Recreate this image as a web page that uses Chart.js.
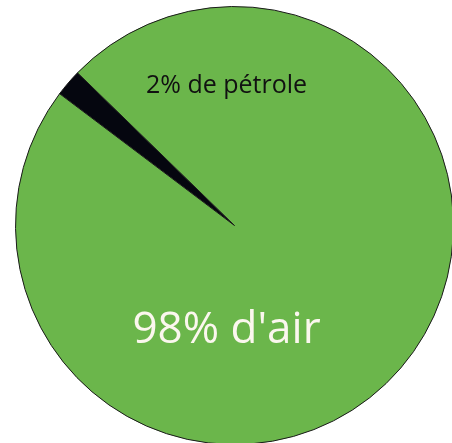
<!DOCTYPE html>
<html>
<head>
<meta charset="utf-8">
<script src="https://cdn.jsdelivr.net/npm/chart.js@4"></script>
<style>
  html, body { margin: 0; padding: 0; background: #fff; overflow: hidden; width: 452px; height: 443px; }
  #wrap { position: absolute; left: 0; top: 0; }
</style>
</head>
<body>
<div id="wrap"><canvas id="pie" width="480" height="470"></canvas></div>
<script>
const categories = ['2% de pétrole', "98% d'air"];
const shares = [2, 98];
const sliceColors = ['#05060f', '#6bb64b'];

// texts drawn over the pie, baseline offset from its centre
const sliceLabels = [
  { text: '2% de pétrole', dx: -8, dy: -133, font: '25px "Open Sans"', color: '#111' },
  { text: "98% d'air", dx: -8, dy: 117, font: '44px "Open Sans"', color: '#fbf7ee' },
];

const labelPlugin = {
  id: 'sliceLabels',
  afterDatasetsDraw(chart) {
    const arc = chart.getDatasetMeta(0).data[0];
    const ctx = chart.ctx;
    ctx.save();
    ctx.textAlign = 'center';
    ctx.textBaseline = 'alphabetic';
    sliceLabels.forEach((l) => {
      ctx.font = l.font;
      ctx.fillStyle = l.color;
      ctx.fillText(l.text, arc.x + l.dx, arc.y + l.dy);
    });
    ctx.restore();
  },
};

new Chart(document.getElementById('pie').getContext('2d'), {
  type: 'pie',
  data: {
    labels: categories,
    datasets: [{
      data: shares,
      backgroundColor: sliceColors,
      borderColor: '#1a1a1a',
      borderWidth: 1,
      offset: 0,
      hoverOffset: 0,
    }],
  },
  options: {
    responsive: false,
    animation: false,
    devicePixelRatio: 1,
    rotation: -53,
    layout: { padding: { left: 15, top: 6, right: 26, bottom: 25 } },
    plugins: { legend: { display: false }, tooltip: { enabled: false } },
  },
  plugins: [labelPlugin],
});
</script>
</body>
</html>
